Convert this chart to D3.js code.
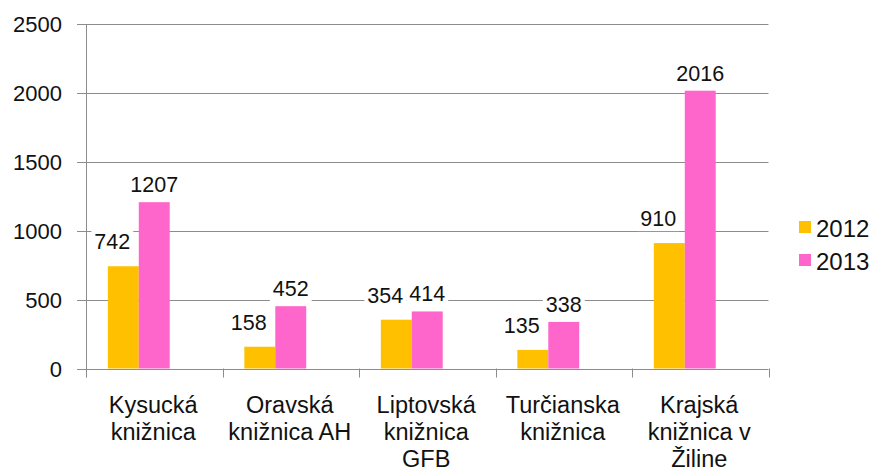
<!DOCTYPE html>
<html>
<head>
<meta charset="utf-8">
<script src="https://cdn.jsdelivr.net/npm/d3@7/dist/d3.min.js"></script>
<style>
  body { margin: 0; background: #fff; }
  svg { display: block; font-family: "Liberation Sans", Arial, sans-serif; }
</style>
</head>
<body>
<svg id="chart" width="873" height="471"></svg>
<script>
const categories = [
  ["Kysucká", "knižnica"],
  ["Oravská", "knižnica AH"],
  ["Liptovská", "knižnica", "GFB"],
  ["Turčianska", "knižnica"],
  ["Krajská", "knižnica v", "Žiline"]
];
const seriesNames = ["2012", "2013"];
const values2012 = [742, 158, 354, 135, 910];
const values2013 = [1207, 452, 414, 338, 2016];
const yTicks = [0, 500, 1000, 1500, 2000, 2500];
const colors = ["#FFC000", "#FF66CC"];

(function () {
const svg = d3.select("#chart");
const mLeft = 86, mRight = 768.5, mTop = 24, mBottom = 368.5;

const catKeys = categories.map((c, i) => i);
const x0 = d3.scaleBand().domain(catKeys).range([mLeft, mRight]).paddingInner(0).paddingOuter(0);
const bw = x0.bandwidth();
// three slots per group (the third is empty), as in the original chart
const x1 = d3.scaleBand().domain(["2012", "2013", "_"]).range([bw * 0.16, bw * 0.84]);
const y = d3.scaleLinear().domain([0, 2500]).range([mBottom, mTop]);

// gridlines
svg.append("g").selectAll("line").data(yTicks).join("line")
  .attr("x1", mLeft - 9).attr("x2", mRight)
  .attr("y1", d => Math.round(y(d)) + 0.5).attr("y2", d => Math.round(y(d)) + 0.5)
  .attr("stroke", "#8c8c8c").attr("stroke-width", 1);

// y axis line
svg.append("line").attr("x1", mLeft + 0.5).attr("x2", mLeft + 0.5)
  .attr("y1", mTop).attr("y2", mBottom + 9)
  .attr("stroke", "#8c8c8c");

// category tick marks
svg.append("g").selectAll("line").data(catKeys.concat([categories.length])).join("line")
  .attr("x1", d => Math.round(d < categories.length ? x0(d) : mRight) + 0.5)
  .attr("x2", d => Math.round(d < categories.length ? x0(d) : mRight) + 0.5)
  .attr("y1", mBottom).attr("y2", mBottom + 9)
  .attr("stroke", "#8c8c8c");

// y tick labels
svg.append("g").selectAll("text").data(yTicks).join("text")
  .attr("x", 62).attr("y", d => y(d) + 8)
  .attr("text-anchor", "end").attr("font-size", 22).attr("fill", "#111")
  .text(d => d);

// bars
const allSeries = [values2012, values2013];
allSeries.forEach((vals, si) => {
  svg.append("g").selectAll("rect").data(vals).join("rect")
    .attr("x", (d, i) => x0(i) + x1(seriesNames[si]))
    .attr("width", x1.bandwidth())
    .attr("y", d => y(d))
    .attr("height", d => y(0) - y(d))
    .attr("fill", colors[si]);
});

// data labels with white background
const labelOffsets = [{dx: -11, dy: -24}, {dx: 0, dy: -17}];
allSeries.forEach((vals, si) => {
  const g = svg.append("g");
  vals.forEach((d, i) => {
    const cx = x0(i) + x1(seriesNames[si]) + x1.bandwidth() / 2 + labelOffsets[si].dx;
    const cy = y(d) + labelOffsets[si].dy;
    const t = g.append("text")
      .attr("x", cx).attr("y", cy + 7)
      .attr("text-anchor", "middle").attr("font-size", 21.5).attr("fill", "#111")
      .text(d);
    const bb = t.node().getBBox();
    g.insert("rect", "text")
      .attr("x", bb.x - 3).attr("y", bb.y)
      .attr("width", bb.width + 6).attr("height", bb.height)
      .attr("fill", "#fff");
  });
});

// category labels
const catG = svg.append("g");
categories.forEach((lines, i) => {
  const t = catG.append("text")
    .attr("text-anchor", "middle").attr("font-size", 23.5).attr("fill", "#111");
  lines.forEach((ln, li) => {
    t.append("tspan").attr("x", x0(i) + bw / 2 - 1).attr("y", 413 + li * 27).text(ln);
  });
});

// legend
const lg = svg.append("g");
seriesNames.forEach((s, si) => {
  lg.append("rect").attr("x", 799).attr("y", 221 + si * 33)
    .attr("width", 12).attr("height", 12).attr("fill", colors[si]);
  lg.append("text").attr("x", 816).attr("y", 237 + si * 33)
    .attr("font-size", 24).attr("fill", "#111").text(s);
});
})();
</script>
</body>
</html>
